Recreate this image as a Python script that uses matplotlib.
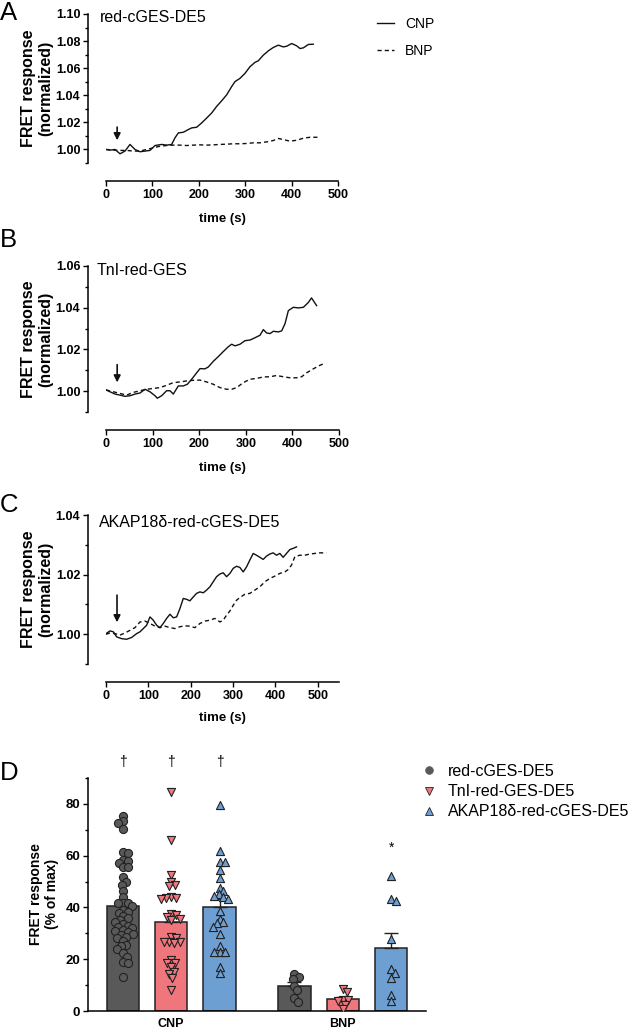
import numpy as np
import matplotlib
matplotlib.use("Agg")
import matplotlib.pyplot as plt
from matplotlib.ticker import MultipleLocator, FormatStrFormatter
from matplotlib.lines import Line2D

plt.rcParams['font.family'] = ['Liberation Sans', 'DejaVu Sans']

# ====================== DATA ======================
# Panel A: red-cGES-DE5
a_cnp_t = [0, 8.6, 19.4, 30.2, 40.9, 51.7, 62.5, 73.3, 84, 94.8, 105.6, 120, 130.7, 141.5,
           148.7, 155.9, 166.7, 177.4, 184.6, 195.4, 206.2, 217, 227.7, 238.5, 249.3, 260,
           270.8, 278, 288.8, 299.6, 310.3, 321.1, 328.3, 339, 349.8, 360.6, 371.4, 382.2,
           389.4, 400.2, 411, 418.1, 425.3, 436, 446.8]
a_cnp_y = [1.000, 0.9995, 1.000, 0.9968, 0.9988, 1.0037, 1.000, 0.9983, 0.9988, 0.9993,
           1.0029, 1.0037, 1.0032, 1.0037, 1.0086, 1.0122, 1.0127, 1.0147, 1.0159, 1.0164,
           1.0196, 1.0232, 1.0269, 1.0318, 1.0359, 1.0403, 1.0464, 1.0501, 1.0525, 1.0562,
           1.0611, 1.0643, 1.0655, 1.0696, 1.0728, 1.0753, 1.0770, 1.0757, 1.0762, 1.0782,
           1.0765, 1.0745, 1.0750, 1.0775, 1.0777]
a_bnp_t = [0, 15.8, 30.2, 44.5, 58.9, 73.3, 87.6, 102, 116.4, 130.7, 145.1, 159.5, 173.9,
           188.2, 202.6, 217, 231.3, 245.7, 260, 274.4, 288.8, 303.2, 317.5, 331.9, 346.3,
           360.6, 371.4, 382.2, 396.6, 411, 425.3, 439.7, 457.6]
a_bnp_y = [1.000, 0.9995, 0.9993, 0.9993, 0.9988, 0.9988, 1.000, 1.0012, 1.0024, 1.0029,
           1.0032, 1.0032, 1.0029, 1.0032, 1.0034, 1.0032, 1.0034, 1.0037, 1.0039, 1.0042,
           1.0042, 1.0044, 1.0049, 1.0049, 1.0056, 1.0066, 1.0081, 1.0073, 1.0061, 1.0068,
           1.0083, 1.0090, 1.0090]

# Panel B: TnI-red-GES
b_cnp_t = [0, 8.6, 19.3, 30, 40.8, 51.5, 62.2, 72.9, 83.7, 94.4, 105.1, 110.1, 119.4, 130.1,
           137.3, 144.4, 155.2, 165.9, 174.5, 183.8, 194.6, 201.7, 212.4, 219.6, 230.3, 241.1,
           251.8, 262.5, 269.7, 276.8, 287.6, 298.3, 309, 319.7, 330.5, 337.6, 344.8, 352,
           359.1, 369.8, 377, 384.1, 391.3, 402, 412.7, 423.5, 434.2, 441, 452]
b_cnp_y = [1.0006, 0.9997, 0.9986, 0.9981, 0.9975, 0.9978, 0.9986, 0.9991, 1.0009, 0.9997,
           0.9978, 0.9966, 0.9978, 1.0002, 1.0002, 0.9986, 1.0025, 1.0025, 1.0033, 1.0057,
           1.0088, 1.0108, 1.0107, 1.0116, 1.0143, 1.0166, 1.0190, 1.0213, 1.0225, 1.0217,
           1.0225, 1.0242, 1.0245, 1.0256, 1.0268, 1.0295, 1.0279, 1.0276, 1.0287, 1.0284,
           1.0289, 1.0323, 1.0386, 1.0402, 1.0399, 1.0402, 1.0425, 1.0447, 1.0410]
b_bnp_t = [0, 15.7, 30, 44.3, 58.7, 73, 87.3, 101.6, 115.9, 130.2, 144.5, 158.8, 173.1,
           187.4, 201.7, 216, 230.3, 244.6, 258.9, 269.7, 280.4, 294.7, 309, 323.3, 337.6,
           351.9, 366.2, 380.5, 394.8, 409.2, 419.9, 430.6, 444.9, 459.2, 467.8]
b_bnp_y = [1.0006, 0.9997, 0.9989, 0.9981, 0.9994, 1.0002, 1.0009, 1.0013, 1.0017, 1.0028,
           1.0041, 1.0044, 1.0049, 1.0052, 1.0053, 1.0044, 1.0033, 1.0017, 1.0009, 1.0009,
           1.0017, 1.0041, 1.0057, 1.0061, 1.0068, 1.0069, 1.0075, 1.0069, 1.0064, 1.0064,
           1.0069, 1.0088, 1.0107, 1.0124, 1.0132]

# Panel C: AKAP18d-red-cGES-DE5
c_cnp_t = [0, 9.4, 17.3, 25.2, 37, 48.7, 60.5, 72.3, 80.2, 88.1, 95.9, 103.8, 111.6, 119.5,
           127.4, 135.2, 143.1, 151, 158.8, 166.7, 174.5, 182.4, 190.3, 198.1, 206, 213.8,
           221.7, 229.6, 237.4, 245.3, 253.1, 261, 268.9, 276.7, 284.6, 292.5, 300.3, 308.2,
           316, 323.9, 331.8, 339.6, 347.5, 355.3, 363.2, 371.1, 378.9, 386.8, 394.6, 402.5,
           410.4, 418.2, 426.1, 433.9, 441.8, 449.7]
c_cnp_y = [1.0002, 1.0011, 1.0008, 0.9991, 0.9985, 0.9983, 0.9989, 1.0002, 1.0008, 1.0019,
           1.0030, 1.0058, 1.0047, 1.0030, 1.0022, 1.0036, 1.0053, 1.0067, 1.0055, 1.0058,
           1.0086, 1.0120, 1.0117, 1.0112, 1.0125, 1.0137, 1.0142, 1.0139, 1.0148, 1.0159,
           1.0176, 1.0193, 1.0202, 1.0206, 1.0193, 1.0204, 1.0221, 1.0228, 1.0224, 1.0209,
           1.0226, 1.0249, 1.0271, 1.0265, 1.0258, 1.0251, 1.0262, 1.0269, 1.0273, 1.0265,
           1.0271, 1.0258, 1.0271, 1.0284, 1.0288, 1.0293]
c_bnp_t = [0, 9.4, 21.2, 33, 44.8, 56.6, 68.4, 80.2, 92, 103.8, 115.6, 127.4, 139.2, 151,
           162.7, 174.5, 186.3, 198.1, 209.9, 221.7, 233.5, 245.3, 257.1, 268.9, 276.7, 284.6,
           292.5, 300.3, 308.2, 316, 327.8, 339.6, 351.4, 363.2, 375, 386.8, 398.6, 410.4,
           422.2, 430, 437.9, 445.8, 457.5, 469.3, 481.1, 492.9, 504.7, 520.4]
c_bnp_y = [1.000, 1.0004, 1.0002, 0.9997, 1.0004, 1.0013, 1.0022, 1.0041, 1.0044, 1.0036,
           1.0027, 1.0022, 1.0027, 1.0022, 1.0019, 1.0025, 1.0028, 1.0027, 1.0022, 1.0036,
           1.0044, 1.0047, 1.0053, 1.0041, 1.0047, 1.0064, 1.0078, 1.0097, 1.0114, 1.0123,
           1.0134, 1.0137, 1.0148, 1.0159, 1.0176, 1.0187, 1.0195, 1.0204, 1.0209, 1.0217,
           1.0232, 1.0260, 1.0265, 1.0265, 1.0269, 1.0271, 1.0273, 1.0273]

# Panel D: individual cells, FRET response (% of max)
sensors = ['red-cGES-DE5', 'TnI-red-GES-DE5', 'AKAP18δ-red-cGES-DE5']
stimuli = ['CNP', 'BNP']
d_cnp = [
    [75.2, 73.2, 72.6, 70.3, 61.6, 61.0, 58.4, 57.8, 57.1, 55.8, 55.8, 51.7, 50.0, 48.7,
     46.2, 44.2, 41.7, 41.7, 41.7, 40.5, 39.0, 38.4, 37.8, 36.8, 35.9, 35.2, 34.5, 33.5,
     32.9, 32.6, 32.0, 31.3, 31.0, 30.7, 29.9, 29.4, 28.7, 28.1, 27.0, 25.5, 25.0, 24.0,
     22.3, 21.0, 19.1, 18.4, 13.3],
    [84.5, 66.2, 52.6, 50.0, 48.7, 48.1, 44.2, 43.8, 43.6, 43.2, 37.5, 36.9, 36.5, 35.6,
     35.2, 28.7, 28.1, 26.8, 26.8, 26.8, 26.2, 19.7, 18.4, 18.4, 16.9, 15.2, 14.3, 12.6, 8.1],
    [79.7, 61.9, 57.4, 57.4, 54.5, 51.2, 47.7, 46.2, 45.1, 44.5, 44.2, 43.2, 38.7, 35.6,
     34.2, 33.9, 32.6, 29.7, 25.1, 22.7, 22.7, 22.7, 16.9, 14.6],
]
d_bnp = [
    [14.2, 13.3, 12.3, 9.8, 8.1, 5.1, 3.6],
    [8.6, 7.5, 4.4, 4.3, 3.8, 2.5, 0.6],
    [52.0, 43.2, 42.3, 27.9, 16.1, 14.8, 12.9, 6.2, 4.0],
]
cnp_marks = ['†', '†', '†']
bnp_marks = ['', '', '*']

# ====================== STYLE ======================
W, H = 632, 1029
colors = ['#595959', '#f0767e', '#6e9fd3']
markers = ['o', 'v', '^']
edge = '#222222'

fig = plt.figure(figsize=(W / 100, H / 100), dpi=100)


def px_axes(l, t, r, b):
    return fig.add_axes([l / W, 1 - b / H, (r - l) / W, (b - t) / H])


def trace_panel(ax, cnp_t, cnp_y, bnp_t, bnp_y, ylim, xmax, title, arrow,
                label_x_top, letter, letter_base):
    ax.plot(cnp_t, cnp_y, color='#111111', lw=1.0)
    ax.plot(bnp_t, bnp_y, color='#111111', lw=1.0, ls=(0, (3, 2.2)))
    ax.set_xlim(0, xmax)
    ax.set_ylim(*ylim)
    for s in ['top', 'right']:
        ax.spines[s].set_visible(False)
    ax.spines['left'].set_position(('outward', 13))
    ax.spines['bottom'].set_position(('outward', 13))
    for s in ['left', 'bottom']:
        ax.spines[s].set_linewidth(1.1)
    ax.spines['bottom'].set_bounds(0, xmax)
    ax.xaxis.set_major_locator(MultipleLocator(100))
    ax.yaxis.set_major_locator(MultipleLocator(0.02))
    ax.yaxis.set_minor_locator(MultipleLocator(0.01))
    ax.yaxis.set_major_formatter(FormatStrFormatter('%.2f'))
    ax.tick_params(which='major', length=3.5, width=1.0, labelsize=9, pad=2)
    ax.tick_params(which='minor', length=2, width=1.0)
    for lab in ax.get_xticklabels() + ax.get_yticklabels():
        lab.set_fontweight('bold')
    ax.set_xlabel('time (s)', fontsize=9.5, fontweight='bold')
    ax.xaxis.set_label_coords(222 / W, 1 - label_x_top / H, transform=fig.transFigure)
    ax.set_ylabel('FRET response\n(normalized)', fontsize=11.5, fontweight='bold')
    yc = (ax.get_position().y0 + ax.get_position().y1) / 2
    ax.yaxis.set_label_coords(53 / W, yc, transform=fig.transFigure)
    ax.annotate('', xy=(arrow[0], arrow[2]), xytext=(arrow[0], arrow[1]),
                arrowprops=dict(arrowstyle='-|>', color='#111111', lw=1.2,
                                mutation_scale=10, shrinkA=0, shrinkB=0))
    fig.text(title[1] / W, 1 - title[2] / H, title[0], fontsize=11.5, va='baseline')
    fig.text(0, 1 - letter_base / H, letter, fontsize=18.5, va='baseline')


axA = px_axes(106, 14, 338, 163)
trace_panel(axA, a_cnp_t, a_cnp_y, a_bnp_t, a_bnp_y, (0.99, 1.10), 500,
            ('red-cGES-DE5', 100, 21.7), (24, 1.0165, 1.0068), 213, 'A', 20)

axB = px_axes(106, 266, 339, 412)
trace_panel(axB, b_cnp_t, b_cnp_y, b_bnp_t, b_bnp_y, (0.99, 1.06), 500,
            ('TnI-red-GES', 97, 275), (24, 1.0127, 1.0042), 462, 'B', 247)

axC = px_axes(106, 515, 339, 664)
trace_panel(axC, c_cnp_t, c_cnp_y, c_bnp_t, c_bnp_y, (0.99, 1.04), 550,
            ('AKAP18δ-red-cGES-DE5', 99, 527), (26, 1.0131, 1.0040), 712, 'C', 512)

leg_a = [Line2D([], [], color='#111111', lw=1.0),
         Line2D([], [], color='#111111', lw=1.0, ls=(0, (3, 2.2)))]
fig.legend(leg_a, stimuli, loc='upper left', bbox_to_anchor=(377 / W, 1 - 17 / H),
           frameon=False, fontsize=10, handlelength=1.2, handletextpad=0.8,
           labelspacing=0.95, borderpad=0, borderaxespad=0)

# ---------------- Panel D ----------------
axD = px_axes(88, 778, 426, 1011)
x_px, y_px = 48.3, 233 / 90.0
pos_cnp = [0, 1, 2]
pos_bnp = [3.55, 4.55, 5.55]


def swarm(vals, diam=5.2):
    placed, offs = [], []
    for v in vals:
        y = v * y_px
        cands = [0.0]
        for xo, yo in placed:
            dy = abs(y - yo)
            if dy < diam:
                dx = np.sqrt(diam ** 2 - dy ** 2)
                cands += [xo + dx, xo - dx]
        for c in sorted(cands, key=abs):
            if all((c - xo) ** 2 + (y - yo) ** 2 >= diam ** 2 - 1e-6 for xo, yo in placed):
                break
        placed.append((c, y))
        offs.append(c / x_px)
    return np.array(offs)


for group, positions, marks in [(d_cnp, pos_cnp, cnp_marks), (d_bnp, pos_bnp, bnp_marks)]:
    for i, vals in enumerate(group):
        vals = np.array(vals)
        m = vals.mean()
        sem = vals.std(ddof=1) / np.sqrt(len(vals))
        axD.bar(positions[i], m, width=0.67, color=colors[i], edgecolor=edge,
                linewidth=1.1, zorder=2)
        axD.errorbar(positions[i], m, yerr=[[0], [sem]], fmt='none', ecolor=edge,
                     elinewidth=1.0, capsize=5, capthick=1.0, zorder=3)
        order = np.sort(vals)[::-1]
        axD.scatter(positions[i] + swarm(order), order, s=34, marker=markers[i],
                    facecolor=colors[i], edgecolor=edge, linewidth=0.8, zorder=4)
        if marks[i]:
            yy = 96 if marks[i] == '†' else 63
            axD.text(positions[i], yy, marks[i], ha='center', va='center',
                     fontsize=10, clip_on=False)

axD.set_xlim(-0.72, 6.27)
axD.set_ylim(0, 90)
for s in ['top', 'right']:
    axD.spines[s].set_visible(False)
for s in ['left', 'bottom']:
    axD.spines[s].set_linewidth(1.1)
axD.yaxis.set_major_locator(MultipleLocator(20))
axD.yaxis.set_minor_locator(MultipleLocator(10))
axD.set_xticks([pos_cnp[1], pos_bnp[1]])
axD.set_xticklabels(stimuli)
axD.tick_params(axis='x', length=0, pad=5, labelsize=9)
axD.tick_params(axis='y', which='major', length=3.5, width=1.0, labelsize=9.5, pad=2)
axD.tick_params(axis='y', which='minor', length=2, width=1.0)
for lab in axD.get_xticklabels() + axD.get_yticklabels():
    lab.set_fontweight('bold')
axD.set_ylabel('FRET response\n(% of max)', fontsize=10, fontweight='bold')
axD.yaxis.set_label_coords(59 / W, 1 - 894 / H, transform=fig.transFigure)
fig.text(0, 1 - 780 / H, 'D', fontsize=18.5, va='baseline')

leg_d = [Line2D([], [], ls='none', marker=markers[i], markersize=5.5,
                markerfacecolor=colors[i], markeredgecolor=edge if i else colors[i],
                markeredgewidth=0.6) for i in range(3)]
fig.legend(leg_d, sensors, loc='upper left', bbox_to_anchor=(421 / W, 1 - 764 / H),
           frameon=False, fontsize=11.5, handlelength=1.0, handletextpad=0.69,
           labelspacing=0.32, borderpad=0, borderaxespad=0)

fig.savefig('out.png', dpi=100)
